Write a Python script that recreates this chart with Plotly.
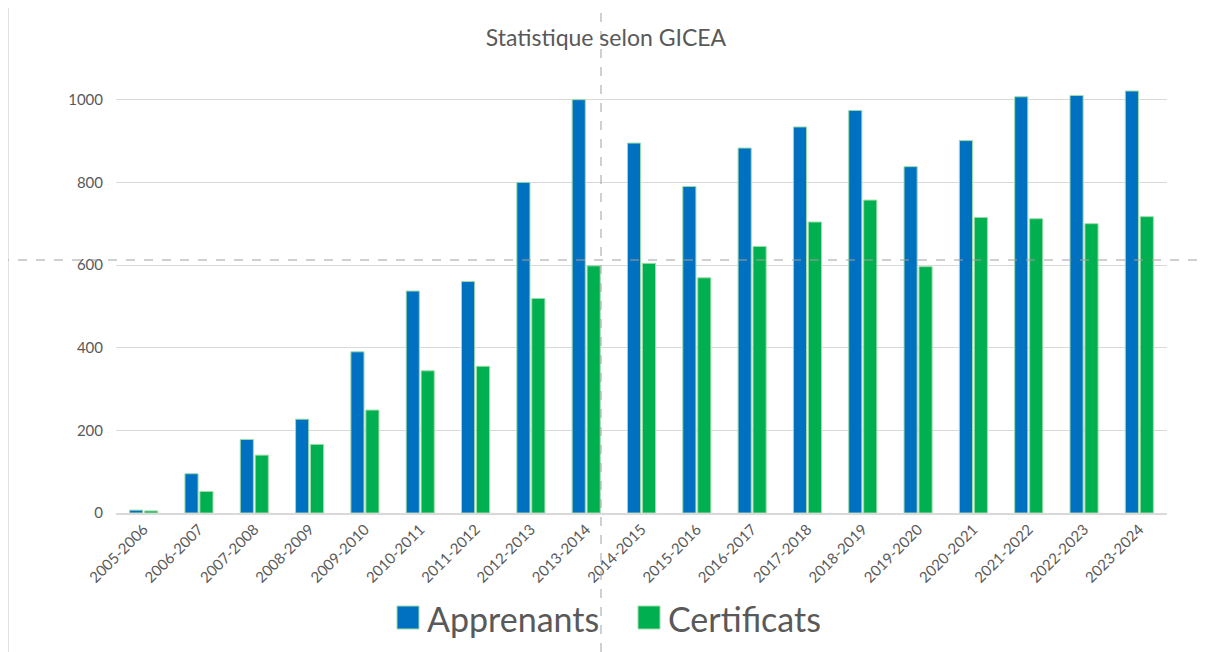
import plotly.graph_objects as go

categories = ["2005-2006", "2006-2007", "2007-2008", "2008-2009", "2009-2010",
              "2010-2011", "2011-2012", "2012-2013", "2013-2014", "2014-2015",
              "2015-2016", "2016-2017", "2017-2018", "2018-2019", "2019-2020",
              "2020-2021", "2021-2022", "2022-2023", "2023-2024"]
apprenants = [7, 95, 178, 227, 390, 537, 560, 800, 1000, 895,
              790, 883, 934, 974, 838, 901, 1007, 1010, 1021]
certificats = [5, 52, 140, 166, 249, 344, 355, 519, 598, 604,
               569, 645, 704, 757, 596, 715, 712, 700, 717]
y_ticks = [0, 200, 400, 600, 800, 1000]
series_names = ["Apprenants", "Certificats"]

W, H = 1207, 652
OFF = 8  # page body margin offset
ML, MR, MT, MB = 116 - OFF, W - (1167 - OFF), 79 - OFF, H - (513 - OFF)
BLUE = "#0070C0"
GREEN = "#00B050"
EDGE = "#9EDCA8"
TXT = "#595959"
FONT = "Lato, 'Open Sans', sans-serif"

fig = go.Figure()
fig.add_trace(go.Bar(x=categories, y=apprenants, name=series_names[0],
                     marker=dict(color=BLUE, line=dict(color=EDGE, width=1)),
                     showlegend=False))
fig.add_trace(go.Bar(x=categories, y=certificats, name=series_names[1],
                     marker=dict(color=GREEN, line=dict(color=EDGE, width=1)),
                     showlegend=False))

pw = W - ML - MR
ph = H - MT - MB
def px_x(x):  # page x -> paper
    return (x - OFF - ML) / pw
def px_y(y):  # page y -> paper
    return (H - MB - (y - OFF)) / ph

shapes = [
    dict(type="rect", xref="paper", yref="paper",
         x0=px_x(8), x1=px_x(1202), y0=px_y(670), y1=px_y(6),
         line=dict(color="#D9D9D9", width=1.5), layer="below"),
    dict(type="line", xref="paper", yref="paper",
         x0=px_x(601), x1=px_x(601), y0=px_y(670), y1=px_y(0),
         line=dict(color="#A0A0A0", width=1, dash="dash")),
    dict(type="line", xref="paper", yref="paper",
         x0=px_x(0), x1=px_x(1215), y0=px_y(260), y1=px_y(260),
         line=dict(color="#A0A0A0", width=1, dash="dash")),
]
annotations = []
# manual legend (large squares like the original)
legend_items = [(series_names[0], BLUE, 397), (series_names[1], GREEN, 638)]
for nm, col, sx in legend_items:
    shapes.append(dict(type="rect", xref="paper", yref="paper",
                       x0=px_x(sx), x1=px_x(sx + 22), y0=px_y(629), y1=px_y(606),
                       fillcolor=col, line=dict(color=EDGE, width=1)))
    annotations.append(dict(text=nm, xref="paper", yref="paper",
                            x=px_x(sx + 28), y=px_y(618), xanchor="left",
                            yanchor="middle", showarrow=False,
                            font=dict(size=34, color=TXT, family=FONT)))

fig.update_layout(
    width=W, height=H,
    margin=dict(l=ML, r=MR, t=MT, b=MB, autoexpand=False),
    paper_bgcolor="white", plot_bgcolor="white",
    font=dict(family=FONT, color=TXT),
    title=dict(text="Statistique selon GICEA", x=(606 - OFF) / W, xanchor="center",
               xref="container", yref="container",
               y=1 - (38 - OFF) / H, yanchor="middle",
               font=dict(size=23, color=TXT, family=FONT)),
    barmode="group", bargap=0.46, bargroupgap=0.12,
    showlegend=False,
    shapes=shapes, annotations=annotations,
)
fig.update_xaxes(tickangle=-45, tickfont=dict(size=15, color=TXT),
                 showline=True, linecolor="#D9D9D9", linewidth=1.5,
                 ticks="", showgrid=False, automargin=False)
fig.update_yaxes(range=[0, 1050], tickvals=y_ticks,
                 tickfont=dict(size=15, color=TXT),
                 showgrid=True, gridcolor="#D9D9D9", gridwidth=1,
                 zeroline=False, showline=False, ticks="",
                 ticklabelstandoff=12, automargin=False)

fig.write_html("out.html")
